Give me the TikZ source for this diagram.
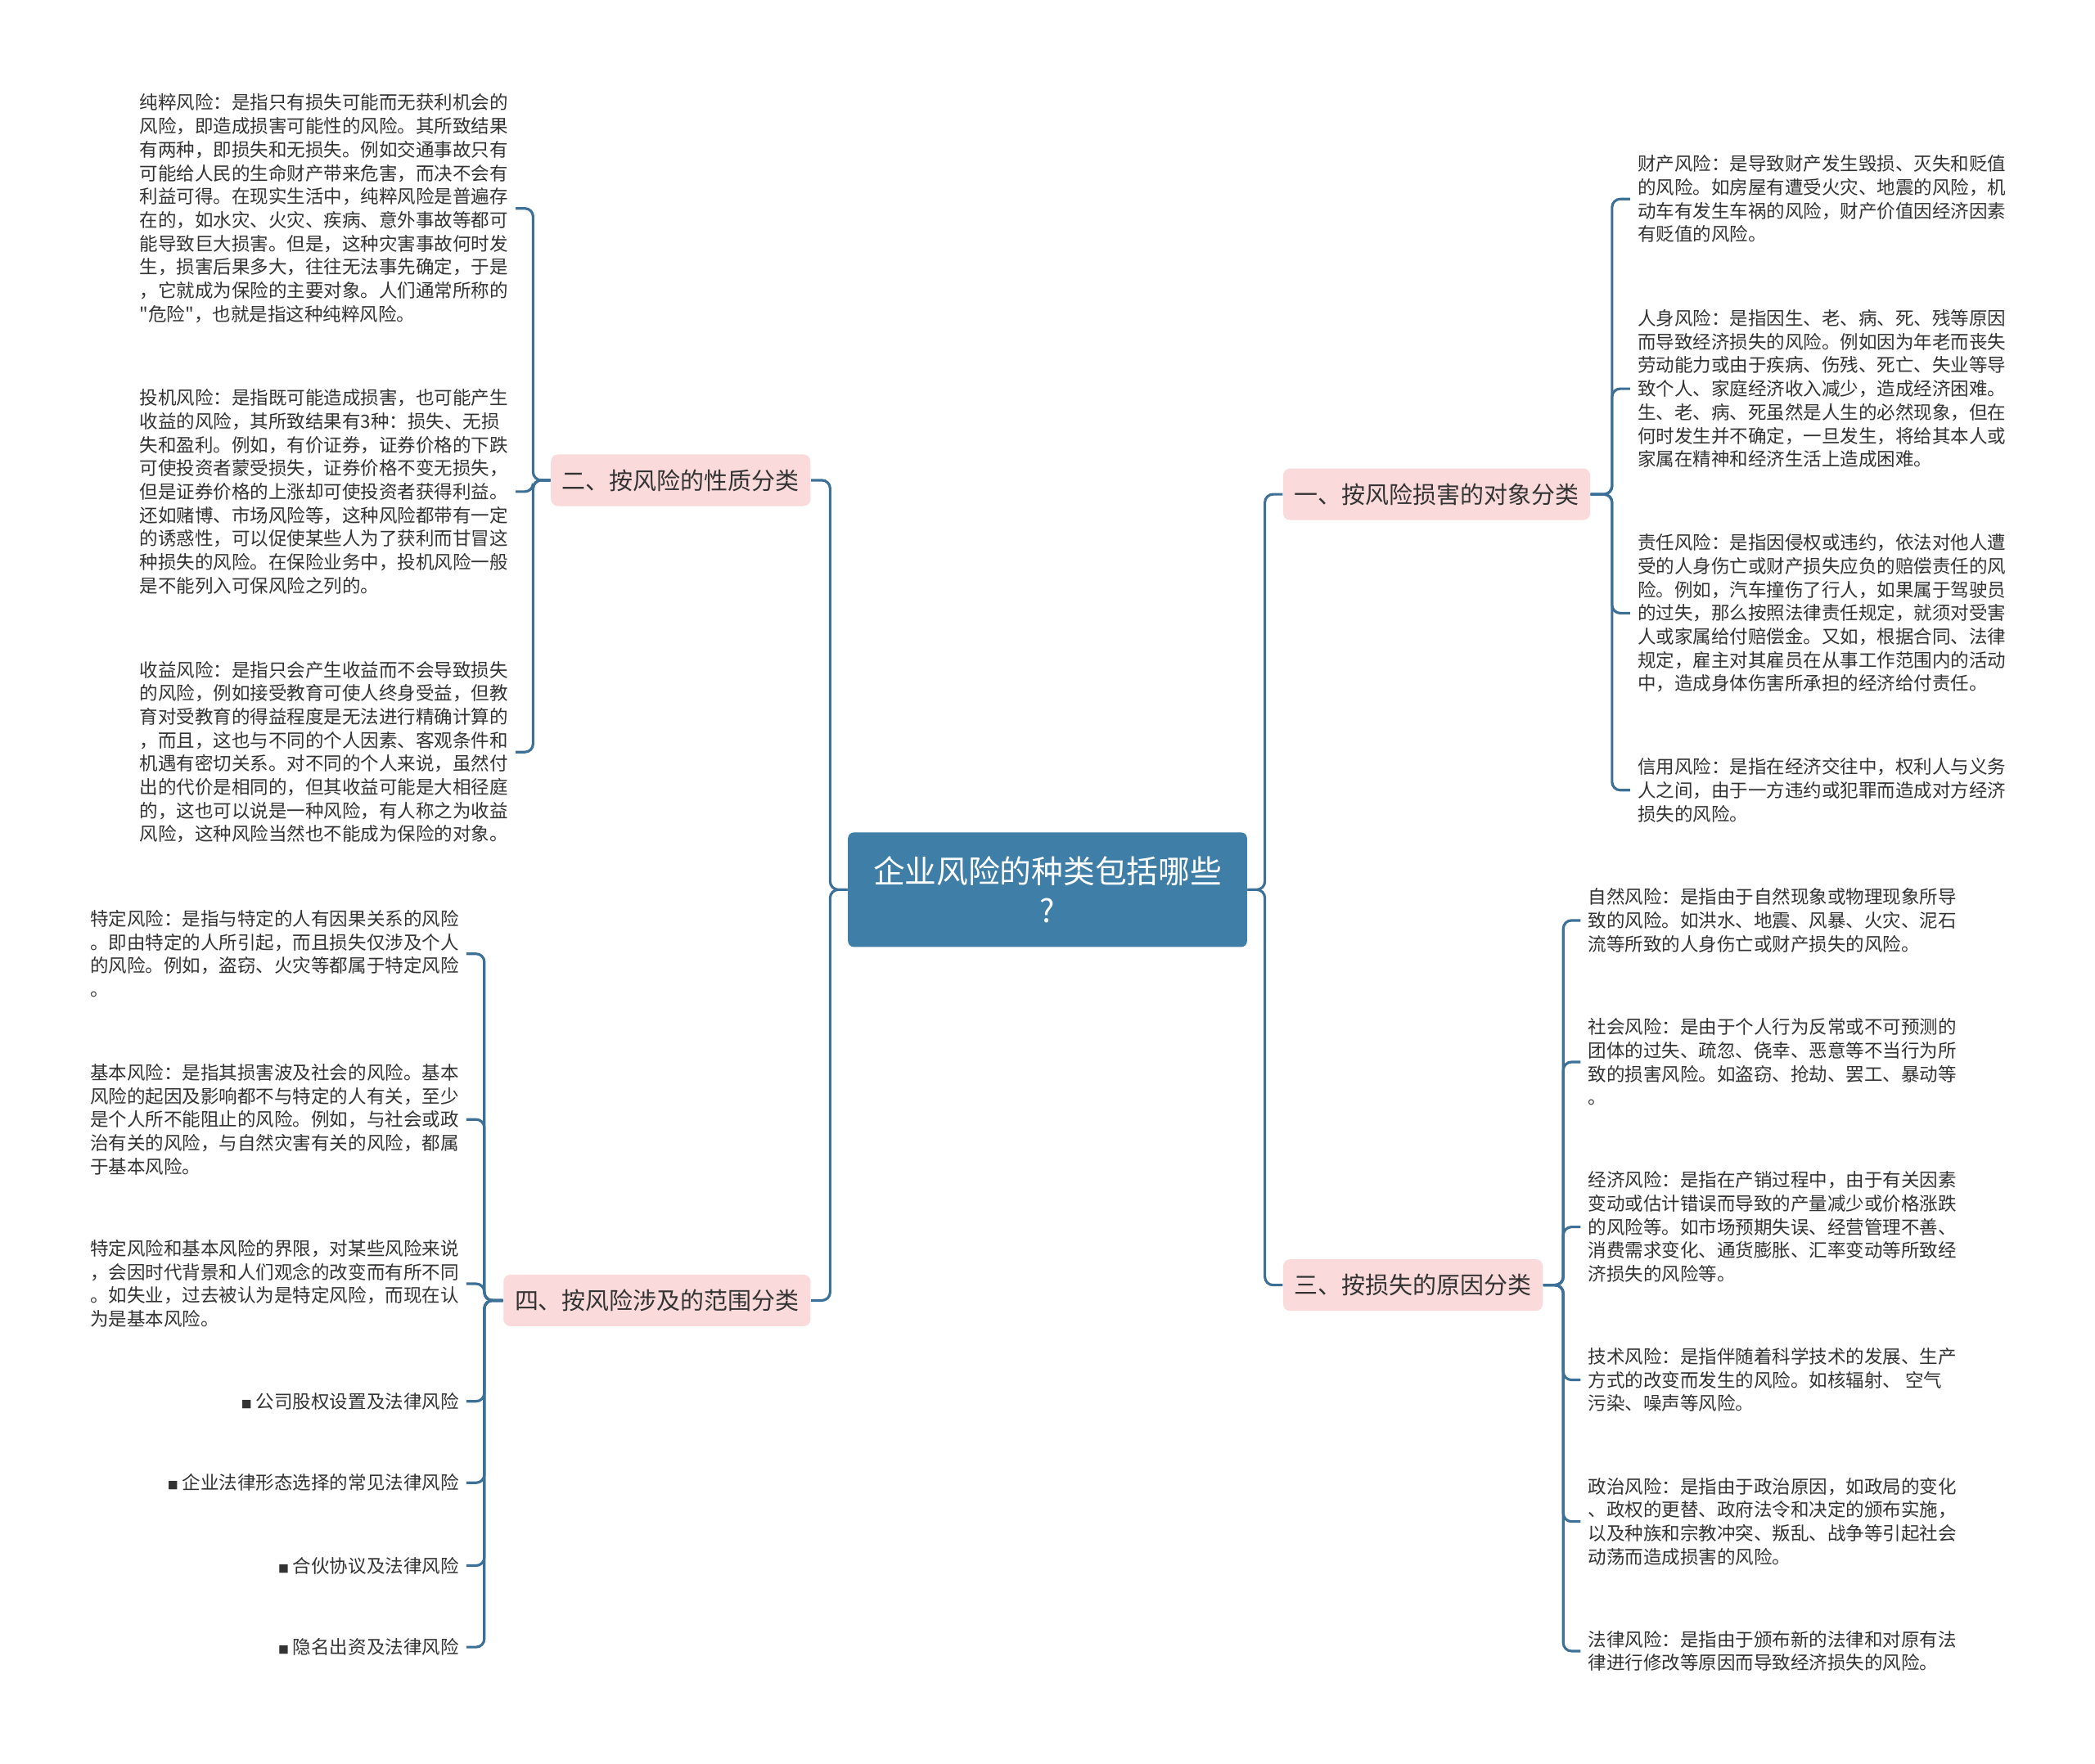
\documentclass[tikz,border=0pt]{standalone}
\usepackage{fontspec}
\newfontfamily\cjk{Noto Sans CJK SC}
\definecolor{rootblue}{HTML}{3F7EA6}
\definecolor{linkblue}{HTML}{3D7096}
\definecolor{tagpink}{HTML}{FADADA}
\definecolor{leafgray}{HTML}{333333}

\begin{document}
\begin{tikzpicture}[x=0.02cm,y=-0.02cm,
  root/.style={fill=rootblue,text=white,rounded corners=2.5pt,minimum width=170pt,minimum height=48.8pt,align=center,font=\cjk\fontsize{13.5}{17}\selectfont},
  topic/.style={fill=tagpink,text=leafgray,rounded corners=3pt,minimum height=22pt,inner xsep=4.8pt,font=\cjk\fontsize{10.1}{12}\selectfont},
  leaf/.style={text=leafgray,align=left,inner xsep=3pt,inner ysep=0pt,font=\cjk\fontsize{7.85}{10}\selectfont},
  link/.style={draw=linkblue,line width=1.1pt,rounded corners=3.5pt}]
  \useasboundingbox (0,0) rectangle (1568,1320);

  % centro
  \node[root] (c) at (784,666) {企业风险的种类包括哪些\\?};

  % ramas
  \node[topic,anchor=west] (b1) at (960,370) {一、按风险损害的对象分类};
  \node[topic,anchor=east] (b2) at (607,359.5) {二、按风险的性质分类};
  \node[topic,anchor=west] (b3) at (960,962) {三、按损失的原因分类};
  \node[topic,anchor=east] (b4) at (607,973.5) {四、按风险涉及的范围分类};
  \draw[link] (c.east) -- ++(13,0) |- (b1.west);
  \draw[link] (c.east) -- ++(13,0) |- (b3.west);
  \draw[link] (c.west) -- ++(-13,0) |- (b2.east);
  \draw[link] (c.west) -- ++(-13,0) |- (b4.east);

  % hojas de la rama 1
  \node[leaf,anchor=west] (l11) at (1220,149) {财产风险：是导致财产发生毁损、灭失和贬值\\的风险。如房屋有遭受火灾、地震的风险，机\\动车有发生车祸的风险，财产价值因经济因素\\有贬值的风险。};
  \node[leaf,anchor=west] (l12) at (1220,291) {人身风险：是指因生、老、病、死、残等原因\\而导致经济损失的风险。例如因为年老而丧失\\劳动能力或由于疾病、伤残、死亡、失业等导\\致个人、家庭经济收入减少，造成经济困难。\\生、老、病、死虽然是人生的必然现象，但在\\何时发生并不确定，一旦发生，将给其本人或\\家属在精神和经济生活上造成困难。};
  \node[leaf,anchor=west] (l13) at (1220,459) {责任风险：是指因侵权或违约，依法对他人遭\\受的人身伤亡或财产损失应负的赔偿责任的风\\险。例如，汽车撞伤了行人，如果属于驾驶员\\的过失，那么按照法律责任规定，就须对受害\\人或家属给付赔偿金。又如，根据合同、法律\\规定，雇主对其雇员在从事工作范围内的活动\\中，造成身体伤害所承担的经济给付责任。};
  \node[leaf,anchor=west] (l14) at (1220,591.5) {信用风险：是指在经济交往中，权利人与义务\\人之间，由于一方违约或犯罪而造成对方经济\\损失的风险。};
  \foreach \l in {l11,l12,l13,l14}
    \draw[link] (b1.east) -- ++(16,0) |- (\l.west);

  % hojas de la rama 2
  \node[leaf,anchor=east] (l21) at (386,156) {纯粹风险：是指只有损失可能而无获利机会的\\风险，即造成损害可能性的风险。其所致结果\\有两种，即损失和无损失。例如交通事故只有\\可能给人民的生命财产带来危害，而决不会有\\利益可得。在现实生活中，纯粹风险是普遍存\\在的，如水灾、火灾、疾病、意外事故等都可\\能导致巨大损害。但是，这种灾害事故何时发\\生，损害后果多大，往往无法事先确定，于是\\，它就成为保险的主要对象。人们通常所称的\\"危险"，也就是指这种纯粹风险。};
  \node[leaf,anchor=east] (l22) at (386,368) {投机风险：是指既可能造成损害，也可能产生\\收益的风险，其所致结果有3种：损失、无损\\失和盈利。例如，有价证券，证券价格的下跌\\可使投资者蒙受损失，证券价格不变无损失，\\但是证券价格的上涨却可使投资者获得利益。\\还如赌博、市场风险等，这种风险都带有一定\\的诱惑性，可以促使某些人为了获利而甘冒这\\种损失的风险。在保险业务中，投机风险一般\\是不能列入可保风险之列的。};
  \node[leaf,anchor=east] (l23) at (386,563) {收益风险：是指只会产生收益而不会导致损失\\的风险，例如接受教育可使人终身受益，但教\\育对受教育的得益程度是无法进行精确计算的\\，而且，这也与不同的个人因素、客观条件和\\机遇有密切关系。对不同的个人来说，虽然付\\出的代价是相同的，但其收益可能是大相径庭\\的，这也可以说是一种风险，有人称之为收益\\风险，这种风险当然也不能成为保险的对象。};
  \foreach \l in {l21,l22,l23}
    \draw[link] (b2.west) -- ++(-13,0) |- (\l.east);

  % hojas de la rama 3
  \node[leaf,anchor=west] (l31) at (1183,689) {自然风险：是指由于自然现象或物理现象所导\\致的风险。如洪水、地震、风暴、火灾、泥石\\流等所致的人身伤亡或财产损失的风险。};
  \node[leaf,anchor=west] (l32) at (1183,795) {社会风险：是由于个人行为反常或不可预测的\\团体的过失、疏忽、侥幸、恶意等不当行为所\\致的损害风险。如盗窃、抢劫、罢工、暴动等\\。};
  \node[leaf,anchor=west] (l33) at (1183,918.5) {经济风险：是指在产销过程中，由于有关因素\\变动或估计错误而导致的产量减少或价格涨跌\\的风险等。如市场预期失误、经营管理不善、\\消费需求变化、通货膨胀、汇率变动等所致经\\济损失的风险等。};
  \node[leaf,anchor=west] (l34) at (1183,1033) {技术风险：是指伴随着科学技术的发展、生产\\方式的改变而发生的风险。如核辐射、 空气\\污染、噪声等风险。};
  \node[leaf,anchor=west] (l35) at (1183,1139) {政治风险：是指由于政治原因，如政局的变化\\、政权的更替、政府法令和决定的颁布实施，\\以及种族和宗教冲突、叛乱、战争等引起社会\\动荡而造成损害的风险。};
  \node[leaf,anchor=west] (l36) at (1183,1236) {法律风险：是指由于颁布新的法律和对原有法\\律进行修改等原因而导致经济损失的风险。};
  \foreach \l in {l31,l32,l33,l34,l35,l36}
    \draw[link] (b3.east) -- ++(15,0) |- (\l.west);

  % hojas de la rama 4
  \node[leaf,anchor=east] (l41) at (349,714) {特定风险：是指与特定的人有因果关系的风险\\。即由特定的人所引起，而且损失仅涉及个人\\的风险。例如，盗窃、火灾等都属于特定风险\\。};
  \node[leaf,anchor=east] (l42) at (349,838) {基本风险：是指其损害波及社会的风险。基本\\风险的起因及影响都不与特定的人有关，至少\\是个人所不能阻止的风险。例如，与社会或政\\治有关的风险，与自然灾害有关的风险，都属\\于基本风险。};
  \node[leaf,anchor=east] (l43) at (349,961) {特定风险和基本风险的界限，对某些风险来说\\，会因时代背景和人们观念的改变而有所不同\\。如失业，过去被认为是特定风险，而现在认\\为是基本风险。};
  \node[leaf,anchor=east] (l44) at (349,1049) {{\fontsize{4.5}{4}\selectfont ■} 公司股权设置及法律风险};
  \node[leaf,anchor=east] (l45) at (349,1110) {{\fontsize{4.5}{4}\selectfont ■} 企业法律形态选择的常见法律风险};
  \node[leaf,anchor=east] (l46) at (349,1172) {{\fontsize{4.5}{4}\selectfont ■} 合伙协议及法律风险};
  \node[leaf,anchor=east] (l47) at (349,1233) {{\fontsize{4.5}{4}\selectfont ■} 隐名出资及法律风险};
  \foreach \l in {l41,l42,l43,l44,l45,l46,l47}
    \draw[link] (b4.west) -- ++(-14,0) |- (\l.east);
\end{tikzpicture}
\end{document}
